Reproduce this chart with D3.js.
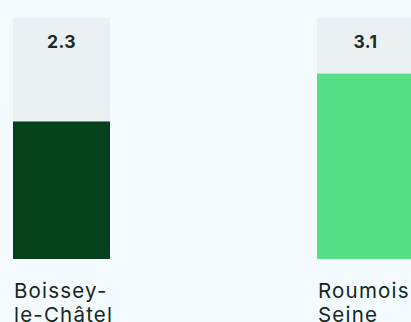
<!DOCTYPE html>
<html>
<head>
<meta charset="utf-8">
<script src="https://cdn.jsdelivr.net/npm/d3@7"></script>
<style>
  html, body { margin: 0; padding: 0; background: #f3fbfe; overflow: hidden; }
  svg { display: block; font-family: Inter, "Noto Sans", sans-serif; }
</style>
</head>
<body>
<svg id="chart" width="411" height="322"></svg>
<script>
// Municipalities and their values
const categories = ["Boissey-le-Châtel", "Roumois Seine"];
const labelLines = [["Boissey-", "le-Châtel"], ["Roumois", "Seine"]];
const values = [2.3, 3.1];
const barColors = ["#03411a", "#56df89"];

const svg = d3.select("#chart");

const x = d3.scaleBand()
  .domain(categories)
  .range([13, 414])
  .paddingInner(0.681)
  .paddingOuter(0);

const y = d3.scaleLinear()
  .domain([0, d3.max(values) * 1.3])
  .range([259, 18]);

const g = svg.selectAll("g.bar")
  .data(categories.map((c, i) => ({ c, v: values[i], color: barColors[i], lines: labelLines[i] })))
  .join("g")
  .attr("class", "bar");

// track behind each bar
g.append("rect")
  .attr("x", d => x(d.c))
  .attr("width", x.bandwidth())
  .attr("y", y.range()[1])
  .attr("height", y.range()[0] - y.range()[1])
  .attr("fill", "#ebf1f2");

// value bar
g.append("rect")
  .attr("x", d => x(d.c))
  .attr("width", x.bandwidth())
  .attr("y", d => y(d.v))
  .attr("height", d => y(0) - y(d.v))
  .attr("fill", d => d.color);

// value label
g.append("text")
  .attr("x", d => x(d.c) + x.bandwidth() / 2)
  .attr("y", 48)
  .attr("text-anchor", "middle")
  .attr("font-size", 17.5)
  .attr("font-weight", 700)
  .attr("letter-spacing", 0.4)
  .attr("fill", "#1b2b24")
  .text(d => d.v.toFixed(1));

// category label
g.append("text")
  .attr("x", d => x(d.c) + 1)
  .attr("y", 298)
  .attr("font-size", 20.5)
  .attr("letter-spacing", 1.2)
  .attr("fill", "#15261d")
  .selectAll("tspan")
  .data(d => d.lines.map(l => ({ l, x: x(d.c) + 1 })))
  .join("tspan")
  .attr("x", t => t.x)
  .attr("dy", (t, i) => i === 0 ? 0 : 23.5)
  .text(t => t.l);
</script>
</body>
</html>
